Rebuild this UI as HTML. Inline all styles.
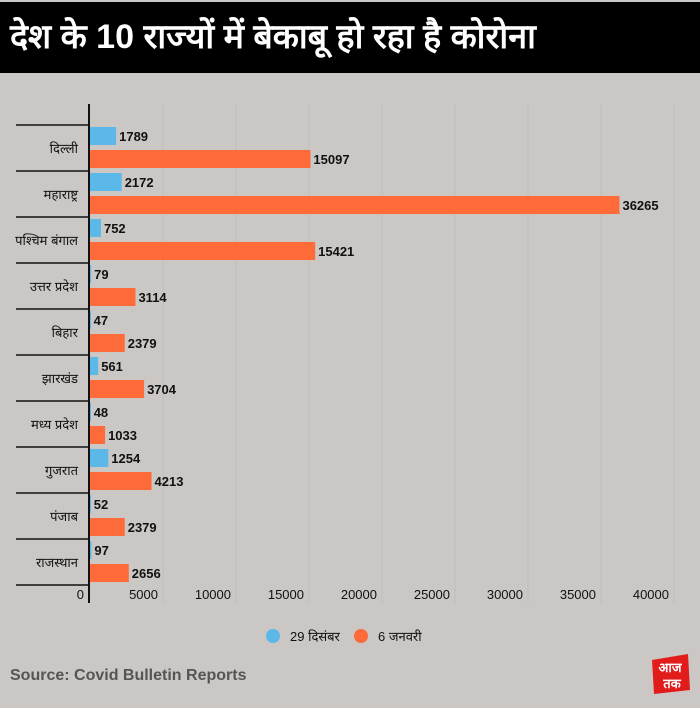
<!DOCTYPE html>
<html><head><meta charset="utf-8">
<style>
html,body{margin:0;padding:0;}
body{width:700px;height:708px;background:#cbc7c5;position:relative;overflow:hidden;font-family:"Liberation Sans",sans-serif;}
#title{position:absolute;left:0;top:2px;width:700px;height:71px;background:#000;color:#fff;font-weight:bold;font-size:34px;line-height:71px;padding-left:10px;box-sizing:border-box;white-space:nowrap;}
svg{position:absolute;left:0;top:0;}
#source{position:absolute;left:10px;top:667px;font-size:16px;font-weight:bold;color:#555;}
</style></head><body>
<div id="title">देश के 10 राज्यों में बेकाबू हो रहा है कोरोना</div>
<svg id="chart" width="700" height="708"></svg>
<div id="source">Source: Covid Bulletin Reports</div>
<svg width="44" height="44" style="left:648px;top:652px">
<path d="M4 8 L40 2 L42 38 L6 42 Z" fill="#e21b1b"/>
<text x="22" y="20" font-size="13" fill="#fff" text-anchor="middle" font-weight="bold">आज</text>
<text x="24" y="36" font-size="13" fill="#fff" text-anchor="middle" font-weight="bold">तक</text>
</svg>
<script>
const states=["दिल्ली","महाराष्ट्र","पश्चिम बंगाल","उत्तर प्रदेश","बिहार","झारखंड","मध्य प्रदेश","गुजरात","पंजाब","राजस्थान"];
const dec29=[1789,2172,752,79,47,561,48,1254,52,97];
const jan6=[15097,36265,15421,3114,2379,3704,1033,4213,2379,2656];
const ticks=[0,5000,10000,15000,20000,25000,30000,35000,40000];
const seriesNames=["29 दिसंबर","6 जनवरी"];
const NS="http://www.w3.org/2000/svg";
const svg=document.getElementById('chart');
const x0=90, kx=73/5000, rowTop=125, rowH=46;
function X(v){return x0+v*kx;}
function Y(i){return rowTop+i*rowH;}
function mk(t,a){const e=document.createElementNS(NS,t);for(const k in a)e.setAttribute(k,a[k]);svg.appendChild(e);return e;}
ticks.forEach(t=>{
  if(t>0){const g=mk('line',{x1:X(t),x2:X(t),y1:104,y2:603,stroke:'#c2bebc','stroke-width':1});
  
  }
  const l=mk('text',{x:t===0?84:X(t)-5,y:599,'font-size':13,'text-anchor':'end',fill:'#111'});
  l.textContent=t;
  
  
});
for(let i=0;i<=states.length;i++){
  const s=mk('line',{x1:16,x2:89,y1:Y(i),y2:Y(i),stroke:'#111','stroke-width':1.5});
  
  
}
states.forEach((s,i)=>{
  const t=mk('text',{x:78,y:Y(i)+28,'font-size':13,'text-anchor':'end',fill:'#111'});
  t.textContent=s;
  
  
  [[dec29,'#5cb8e8',2],[jan6,'#ff6a39',25]].forEach(([arr,c,off],si)=>{
    const v=arr[i];
    const b=mk('rect',{x:X(0),y:Y(i)+off,width:Math.max(1,X(v)-X(0)),height:18,fill:c});
    
    
    const l=mk('text',{x:X(v)+3,y:Y(i)+off+14,'font-size':13,'font-weight':'bold',fill:'#111'});
    l.textContent=v;
    
    
  });
});
const ax=mk('line',{x1:89,x2:89,y1:104,y2:603,stroke:'#111','stroke-width':2});


[[273,'#5cb8e8',seriesNames[0]],[361,'#ff6a39',seriesNames[1]]].forEach(([cx,c,n],i)=>{
  const d=mk('circle',{cx:cx,cy:636,r:7,fill:c});
  
  
  const t=mk('text',{x:cx+17,y:641,'font-size':13,fill:'#111'});
  t.textContent=n;
  
  
});
</script>
</body></html>
